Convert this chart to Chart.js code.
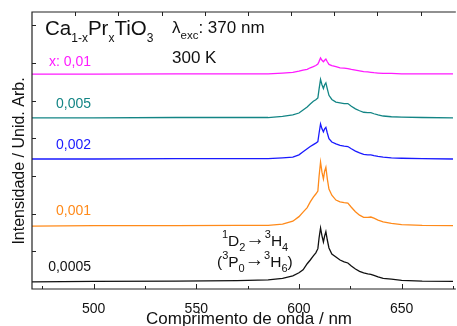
<!DOCTYPE html>
<html>
<head>
<meta charset="utf-8">
<script src="https://cdn.jsdelivr.net/npm/chart.js@4.4.0/dist/chart.umd.min.js"></script>
<style>
  body { margin: 0; background: #fff; }
  canvas { display: block; }
</style>
</head>
<body>
<canvas id="chart" width="457" height="326"></canvas>
<script>
// wavelength grid (nm), shared by all spectra
const wavelengths = [470, 500, 540, 570, 585, 592, 597, 600, 602, 604,
  605.5, 607, 608.2, 609.2, 609.8, 610.5, 611.2, 611.9, 612.5, 613.1,
  613.8, 614.6, 616, 618, 620, 622, 623.8, 625.5, 627.5, 629.5,
  631.5, 633.5, 635, 636.5, 638.5, 641, 645, 650, 660, 675];

// intensities (arb. units) before the vertical offset
const x0_01 = [0, 0, .01, .01, .01, .03, .05, .08, .11, .13,
  .17, .20, .23, .27, .34, .43, .37, .33, .37, .40,
  .33, .26, .23, .20, .17, .16, .15, .13, .11, .09,
  .07, .06, .05, .04, .03, .02, .02, .01, .01, .01];
const x0_005 = [0, 0, .01, .01, .01, .04, .08, .13, .21, .29,
  .37, .44, .48, .53, .77, 1.02, .88, .78, .88, .93,
  .77, .60, .49, .42, .40, .38, .38, .31, .24, .19,
  .15, .14, .14, .11, .08, .05, .03, .02, .01, 0];
const x0_002 = [0, 0, .01, .01, .01, .03, .05, .11, .19, .27,
  .33, .38, .42, .46, .69, .93, .80, .72, .80, .84,
  .69, .54, .45, .40, .36, .34, .33, .27, .21, .16,
  .12, .11, .11, .09, .07, .05, .03, .02, .01, 0];
const x0_001 = [0, .01, .01, .02, .02, .05, .13, .25, .37, .49,
  .64, .77, .85, .93, 1.33, 1.70, 1.43, 1.25, 1.46, 1.56,
  1.25, .98, .82, .69, .64, .62, .61, .50, .38, .29,
  .23, .23, .24, .21, .16, .11, .07, .04, .02, .01];
const x0_0005 = [0, .01, .02, .03, .05, .09, .16, .24, .32, .48,
  .58, .69, .77, .88, 1.17, 1.43, 1.22, 1.06, 1.22, 1.33,
  1.11, .90, .74, .66, .58, .53, .50, .42, .34, .28,
  .24, .21, .20, .17, .13, .09, .07, .04, .02, .01];

const seriesLabels = ["x: 0,01", "0,005", "0,002", "0,001", "0,0005"];
const seriesValues = [x0_01, x0_005, x0_002, x0_001, x0_0005];
const offsets = [5.70, 4.54, 3.45, 1.67, 0.19];
const colors = ["#ff1aff", "#138585", "#1a1aff", "#ff8a1a", "#111111"];

const xTicks = [475, 500, 525, 550, 575, 600, 625, 650, 675];
const yTicks = [1, 2, 3, 4, 5, 6, 7];
const topTicks = [1, 2, 3, 4, 5, 6, 7, 8, 9];

const FONT = "'Liberation Sans', Arial, sans-serif";

// draws text with sub (b) / superscript (p) parts, arrow (a)
function richText(ctx, x, y, parts, size, small, align) {
  const fontOf = (m) => (m === "n" ? size : m === "a" ? size * 1.25 : small) + "px " + FONT;
  let total = 0;
  parts.forEach(([t, m]) => {
    ctx.font = fontOf(m);
    total += ctx.measureText(t).width;
  });
  let cx = align === "right" ? x - total : x;
  ctx.textAlign = "left";
  ctx.textBaseline = "alphabetic";
  parts.forEach(([t, m]) => {
    ctx.font = fontOf(m);
    const dy = m === "b" ? size * 0.33 : m === "p" ? -size * 0.5 : m === "a" ? -size * 0.05 : 0;
    ctx.fillText(t, cx, y + dy);
    cx += ctx.measureText(t).width;
  });
}

const framePlugin = {
  id: "frame",
  afterDraw(chart) {
    const { ctx, chartArea: a, scales } = chart;
    ctx.save();
    ctx.strokeStyle = "#222";
    ctx.lineWidth = 1.2;
    ctx.beginPath();
    ctx.moveTo(a.right + 2, a.top);
    ctx.lineTo(a.left, a.top);
    ctx.lineTo(a.left, a.bottom);
    ctx.lineTo(a.right + 2, a.bottom);
    ctx.stroke();

    ctx.lineWidth = 1;
    ctx.beginPath();
    scales.x.ticks.forEach((t) => {
      const px = Math.round(scales.x.getPixelForValue(t.value)) + 0.5;
      const len = t.value % 50 === 0 ? 5 : 3;
      ctx.moveTo(px, a.bottom);
      ctx.lineTo(px, a.bottom - len);
    });
    scales.y.ticks.forEach((t) => {
      const py = Math.round(scales.y.getPixelForValue(t.value)) + 0.5;
      ctx.moveTo(a.left, py);
      ctx.lineTo(a.left + 4, py);
    });
    scales.x2.ticks.forEach((t) => {
      const px = Math.round(scales.x2.getPixelForValue(t.value)) + 0.5;
      ctx.moveTo(px, a.top);
      ctx.lineTo(px, a.top + 4);
    });
    ctx.stroke();

    ctx.fillStyle = "#111";
    richText(ctx, 45, 35, [["Ca", "n"], ["1-x", "b"], ["Pr", "n"], ["x", "b"], ["TiO", "n"], ["3", "b"]], 20.5, 12);
    richText(ctx, 172, 33, [["λ", "n"], ["exc", "b"], [": 370 nm", "n"]], 17, 11.5);
    richText(ctx, 172, 63, [["300 K", "n"]], 17, 11);

    const labelY = [66, 108, 149, 215, 271];
    seriesLabels.forEach((lab, i) => {
      ctx.fillStyle = colors[i];
      richText(ctx, 91, labelY[i], [[lab, "n"]], 14, 10, "right");
    });

    ctx.fillStyle = "#111";
    richText(ctx, 222, 246, [["1", "p"], ["D", "n"], ["2", "b"], ["→", "a"], ["3", "p"], ["H", "n"], ["4", "b"]], 15.5, 11);
    richText(ctx, 217, 267, [["(", "n"], ["3", "p"], ["P", "n"], ["0", "b"], ["→", "a"], ["3", "p"], ["H", "n"], ["6", "b"], [")", "n"]], 15.5, 11);

    // axis titles
    ctx.font = "17px " + FONT;
    ctx.textAlign = "center";
    ctx.textBaseline = "alphabetic";
    ctx.fillText("Comprimento de onda / nm", 249, 324);
    ctx.save();
    ctx.translate(24, 161);
    ctx.rotate(-Math.PI / 2);
    ctx.font = "16px " + FONT;
    ctx.fillText("Intensidade / Unid. Arb.", 0, 0);
    ctx.restore();
    ctx.restore();
  },
};

const datasets = seriesValues.map((vals, i) => ({
  label: seriesLabels[i],
  data: wavelengths.map((w, j) => ({ x: w, y: vals[j] + offsets[i] })),
  borderColor: colors[i],
  borderWidth: 1.3,
  pointRadius: 0,
  tension: 0,
  fill: false,
}));

new Chart(document.getElementById("chart"), {
  type: "line",
  data: { datasets },
  options: {
    responsive: false,
    animation: false,
    layout: { padding: { top: 12, left: 0, right: 0, bottom: 0 } },
    plugins: { legend: { display: false }, tooltip: { enabled: false } },
    scales: {
      x: {
        type: "linear",
        position: "bottom",
        min: 470,
        max: 675.4,
        afterBuildTicks: (s) => { s.ticks = xTicks.map((v) => ({ value: v })); },
        afterFit: (s) => { s.height = 37; },
        grid: { display: false },
        border: { display: false },
        ticks: {
          autoSkip: false,
          maxRotation: 0,
          padding: 4,
          color: "#111",
          font: { family: FONT, size: 14 },
          callback: (v) => (v % 50 === 0 ? v : ""),
        },
      },
      x2: {
        type: "linear",
        position: "top",
        min: 0,
        max: 9.77,
        afterBuildTicks: (s) => { s.ticks = topTicks.map((v) => ({ value: v })); },
        afterFit: (s) => { s.height = 0; },
        grid: { display: false },
        border: { display: false },
        ticks: { display: false },
      },
      y: {
        min: 0,
        max: 7.35,
        afterBuildTicks: (s) => { s.ticks = yTicks.map((v) => ({ value: v })); },
        afterFit: (s) => { s.width = 32; },
        grid: { display: false },
        border: { display: false },
        ticks: { display: false },
      },
    },
  },
  plugins: [framePlugin],
});
</script>
</body>
</html>
